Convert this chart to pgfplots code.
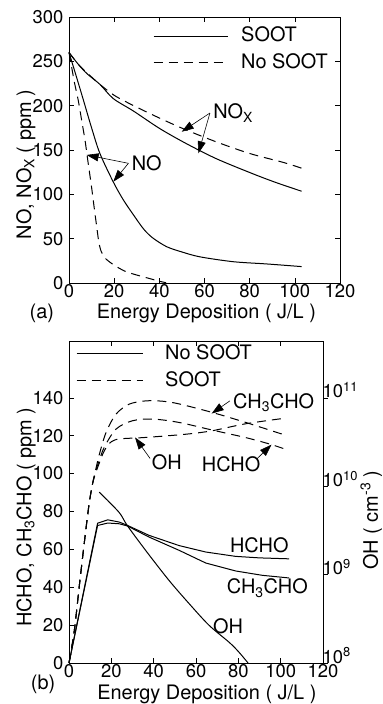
\documentclass[border=0pt]{standalone}
\usepackage{fontspec}
\setmainfont{TeX Gyre Heros}
\usepackage{pgfplots}
\pgfplotsset{compat=1.18}
\usetikzlibrary{arrows.meta}

\pgfplotsset{
  myaxis/.style={
    scale only axis,
    anchor=south west,
    clip=false,
    tick align=inside,
    /pgf/number format/assume math mode=true,
    axis line style={line width=0.8bp},
    every tick/.style={black, line width=0.6bp},
    major tick length=5bp,
    tick label style={font=\fontsize{18.5}{20}\selectfont},
    xticklabel style={inner sep=1.5bp},
    yticklabel style={inner sep=1.5bp, xshift=-4bp},
    label style={font=\fontsize{20}{22}\selectfont},
    cycle list={{black, mark=none}},
    every axis plot/.append style={line width=1bp, black, mark=none},
    legend cell align=left,
  },
  dsh/.style={dash pattern=on 9bp off 6bp},
}
\tikzset{arr/.style={-{Triangle[length=12bp,width=8bp]}, line width=0.6bp}}

\begin{document}
\fontsize{20}{22}\selectfont
\begin{tikzpicture}
\path[use as bounding box] (0,0) rectangle (383bp,-704bp);
% ---------------- panel (a)
\begin{axis}[myaxis, at={(69bp,-283bp)}, width=271bp, height=266bp,
  xmin=0, xmax=120, ymin=0, ymax=300,
  xtick={0,20,...,120}, ytick={0,50,...,300},
  xlabel={Energy Deposition ( J/L )},
  ylabel={NO, NO\textsubscript{X} ( ppm )},
  xlabel style={at={(axis description cs:0.507,-0.1316)}, anchor=base},
  ylabel style={at={(axis description cs:-0.159,0.445)}, anchor=center},
  legend style={at={(axis description cs:0.31,0.878)}, anchor=west,
    draw=none, fill=none, inner sep=0pt, row sep=9bp,
    nodes={inner sep=0pt}, font=\fontsize{20}{22}\selectfont,
    /tikz/every odd column/.append style={column sep=13bp}},
  legend image code/.code={\draw[#1] (0bp,0bp) -- (74bp,0bp);},
]
\addlegendimage{black, line width=1bp}
\addlegendentry{SOOT}
\addlegendimage{black, line width=1bp, dsh}
\addlegendentry{No SOOT}
% NOx, SOOT
\addplot[smooth, tension=0.5] coordinates {
 (0,260) (4,247) (8,236) (13.7,224) (19.6,208) (28.5,194) (40.3,174)
 (52.1,157) (65.4,140) (81.6,123) (92,113) (103,103.5)};
% NOx, No SOOT
\addplot[smooth, tension=0.5, dsh] coordinates {
 (0,260) (4,247) (8,237) (13.7,224) (21.1,210) (35.9,191) (50.6,174)
 (65.4,159) (80.1,146) (94.9,136) (103,129.5)};
% NO, SOOT
\addplot[smooth, tension=0.5] coordinates {
 (0,260) (3,235) (6.3,207) (10,175) (13.7,146) (19.6,114) (24,94)
 (28.5,77) (33,61) (37,51) (43.2,41) (50,35) (58,29.5) (72.8,24) (87.5,21.5) (103,18.5)};
% NO, No SOOT
\addplot[smooth, tension=0.4, dsh] coordinates {
 (0,260) (1.2,243) (2.5,225) (4.1,206) (5.5,185) (7.1,161) (8.5,135)
 (10,108) (11.3,82) (12.3,63) (13.2,46) (14.2,36) (16,28) (18.9,22)
 (22,17) (25.5,12.5) (30,9) (35,5.5) (40,2) (43,0.3)};
% annotations
\node[anchor=west, inner sep=0pt] at (axis cs:63.8,191.7) {NO\textsubscript{X}};
\draw[arr] (axis cs:62.4,191.7) -- (axis cs:49.9,170.6);
\draw[arr] (axis cs:62.4,191.7) -- (axis cs:57.3,146.3);
\node[anchor=west, inner sep=0pt] at (axis cs:27.7,135.3) {NO};
\draw[arr] (axis cs:26.3,135) -- (axis cs:7.8,144.4);
\draw[arr] (axis cs:26.3,135) -- (axis cs:19.6,114.2);
\node[anchor=base, inner sep=0pt] at (axis description cs:-0.1,-0.1316) {(a)};
\end{axis}
% ---------------- panel (b), left axis
\begin{axis}[myaxis, at={(69bp,-663bp)}, width=254bp, height=322bp,
  xmin=0, xmax=120, ymin=0, ymax=170,
  xtick={0,20,...,120}, ytick={0,20,...,140}, ytick pos=left,
  xlabel={Energy Deposition ( J/L )},
  ylabel={HCHO, CH\textsubscript{3}CHO ( ppm )},
  xlabel style={at={(axis description cs:0.543,-0.112)}, anchor=base},
  ylabel style={at={(axis description cs:-0.169,0.453)}, anchor=center},
  legend style={at={(axis description cs:0.0276,0.918)}, anchor=west,
    draw=none, fill=none, inner sep=0pt, row sep=9bp,
    nodes={inner sep=0pt}, font=\fontsize{20}{22}\selectfont,
    /tikz/every odd column/.append style={column sep=22bp}},
  legend image code/.code={\draw[#1] (0bp,0bp) -- (66bp,0bp);},
]
\addlegendimage{black, line width=1bp}
\addlegendentry{No SOOT}
\addlegendimage{black, line width=1bp, dsh}
\addlegendentry{SOOT}
% HCHO, No SOOT
\addplot coordinates {
 (0,0) (13.5,73.8) (18.3,75.6) (23.8,74.4) (27.7,72.6) (37.8,67.4) (52,62)
 (64.6,58.6) (78.7,56.3) (90,55.5) (104,55)};
% CH3CHO, No SOOT
\addplot coordinates {
 (0,0) (13.5,72.6) (18.3,73.9) (23.8,73.5) (27.7,72.3) (37.8,66.5) (52,59.5)
 (64.6,52.8) (78.7,48.6) (91.3,46.3) (104,44.9)};
% CH3CHO, SOOT
\addplot[smooth, tension=0.5, dsh] coordinates {
 (0,0) (2.5,17) (5,42) (7.5,66) (9.5,84) (11.2,95) (12.8,103) (14.3,110)
 (17.5,121.7) (22.2,131.4) (28.5,136.7) (36.4,138.4) (44.3,138.2) (52,136.8)
 (67.6,132.3) (83.5,127) (101.6,120.5)};
% HCHO, SOOT
\addplot[smooth, tension=0.5, dsh] coordinates {
 (0,0) (2.5,17) (5,42) (7.5,66) (9.5,84) (11.2,95) (12.8,102) (14.3,107)
 (16.7,114) (22.2,123.5) (30,127.9) (39.5,128.8) (52,127) (67.6,123)
 (83.5,119) (94.5,115.7) (103,112.6)};
% annotations
\node[anchor=west, inner sep=0pt] at (axis cs:77.5,137.4) {CH\textsubscript{3}CHO};
\draw[arr] (axis cs:76,138.4) -- (axis cs:67.4,131.7);
\node[anchor=west, inner sep=0pt] at (axis cs:39,105.8) {OH};
\draw[arr] (axis cs:38.3,108) -- (axis cs:31.2,119.1);
\node[anchor=west, inner sep=0pt] at (axis cs:62.7,105) {HCHO};
\draw[arr] (axis cs:88.7,107.7) -- (axis cs:95.7,115.3);
\node[anchor=west, inner sep=0pt] at (axis cs:76,62) {HCHO};
\node[anchor=west, inner sep=0pt] at (axis cs:74.5,39.5) {CH\textsubscript{3}CHO};
\node[anchor=west, inner sep=0pt] at (axis cs:68,19.5) {OH};
\node[anchor=base, inner sep=0pt] at (axis description cs:-0.102,-0.081) {(b)};
\end{axis}
% ---------------- panel (b), right axis (OH)
\begin{axis}[myaxis, at={(69bp,-663bp)}, width=254bp, height=322bp,
  xmin=0, xmax=120, ymode=log, ymin=1e8, ymax=4.395e11,
  hide x axis, axis y line*=right, tick align=outside,
  ytick={1e8,1e9,1e10,1e11}, yminorticks=false,
  yticklabel style={inner sep=1bp, xshift=-2.5bp, yshift=7.5bp},
  yticklabels={10\textsuperscript{8},10\textsuperscript{9},10\textsuperscript{10},10\textsuperscript{11}},
  ylabel={OH ( cm\textsuperscript{-3} )},
  ylabel style={at={(axis description cs:1.19,0.444)}, anchor=center},
]
% OH, No SOOT
\addplot[smooth, tension=0.5] coordinates {
 (14.3,8.57e9) (23.6,5.08e9) (27.5,3.6e9) (36.2,1.88e9) (47.2,8.63e8)
 (56.7,4.71e8) (66.1,2.68e8) (75.6,1.72e8) (80,1.35e8) (84.6,1.0e8)};
% OH, SOOT
\addplot[smooth, tension=0.5, dsh] coordinates {
 (0,1e8) (2.5,2.31e8) (5,7.94e8) (7.5,2.6e9) (9.5,6.31e9) (11.2,1.086e10)
 (12.8,1.46e10) (14.3,1.823e10) (16,2.333e10) (18,2.842e10) (20,3.184e10)
 (23.8,3.428e10) (35,3.548e10) (47,3.727e10) (57,3.916e10) (67.6,4.238e10)
 (83.5,5.087e10) (102.4,5.898e10)};
\end{axis}
\end{tikzpicture}
\end{document}
